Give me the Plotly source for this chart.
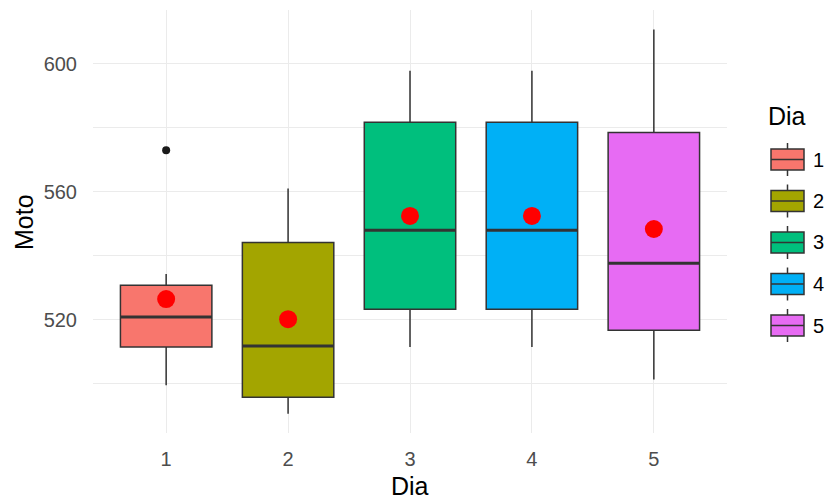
import plotly.graph_objects as go

# ---- data ----
dias = ["1", "2", "3", "4", "5"]
positions = [1, 2, 3, 4, 5]
q1 = [511.4, 495.7, 523.2, 523.2, 516.6]
median = [520.8, 511.7, 547.9, 547.9, 537.6]
q3 = [530.7, 544.1, 581.7, 581.7, 578.5]
lower_whisker = [499.4, 490.5, 511.4, 511.4, 501.2]
upper_whisker = [534.2, 561.0, 597.8, 597.8, 610.7]
means = [526.4, 520.1, 552.4, 552.4, 548.3]
outlier_dia = [1]
outlier_val = [572.9]

colors = ["#F8766D", "#A3A500", "#00BF7D", "#00B0F6", "#E76BF3"]
line_col = "#333333"
box_w = 0.75
FONT = "Liberation Sans, Arial, sans-serif"

# the page body has an 8px margin; size the figure to fit the 833x502 window
OFF = 8
W, H = 833 - OFF, 502 - OFF
ML, MT = 93 - OFF, 10 - OFF
MR = W - (727 - OFF)
MB = H - (433 - OFF)
PW, PH = W - ML - MR, H - MT - MB


def px_x(px):  # screen pixel -> paper
    return (px - OFF - ML) / PW


def px_y(py):
    return (H - MB - (py - OFF)) / PH


fig = go.Figure()
for i, d in enumerate(dias):
    fig.add_trace(go.Box(
        x=[positions[i]], q1=[q1[i]], median=[median[i]], q3=[q3[i]],
        lowerfence=[lower_whisker[i]], upperfence=[upper_whisker[i]],
        width=box_w, whiskerwidth=0, boxpoints=False,
        fillcolor=colors[i], line=dict(color=line_col, width=1.5),
        name=d, showlegend=False, hoverinfo="skip",
    ))

# thicker median lines (ggplot fatten)
mx, my = [], []
for p, m in zip(positions, median):
    mx += [p - box_w / 2, p + box_w / 2, None]
    my += [m, m, None]
fig.add_trace(go.Scatter(x=mx, y=my, mode="lines", line=dict(color=line_col, width=3),
                         showlegend=False, hoverinfo="skip"))

# outliers
fig.add_trace(go.Scatter(x=outlier_dia, y=outlier_val, mode="markers",
                         marker=dict(color="#1A1A1A", size=8), showlegend=False, hoverinfo="skip"))
# means
fig.add_trace(go.Scatter(x=positions, y=means, mode="markers",
                         marker=dict(color="#FF0000", size=18, symbol="circle"),
                         showlegend=False, hoverinfo="skip"))

# ---- ggplot-style legend built from shapes ----
shapes = []
annotations = []
key_l, key_r = 771, 804
key_cx = (key_l + key_r) / 2
first_y, step = 159.5, 41.5
for k, d in enumerate(dias):
    cy = first_y + step * k
    shapes.append(dict(type="line", xref="paper", yref="paper",
                       x0=px_x(key_cx), x1=px_x(key_cx), y0=px_y(cy - 16.5), y1=px_y(cy + 16.5),
                       line=dict(color=line_col, width=1.5), layer="above"))
    shapes.append(dict(type="rect", xref="paper", yref="paper",
                       x0=px_x(key_l), x1=px_x(key_r), y0=px_y(cy - 10.5), y1=px_y(cy + 10.5),
                       fillcolor=colors[k], line=dict(color=line_col, width=1.5), layer="above"))
    shapes.append(dict(type="line", xref="paper", yref="paper",
                       x0=px_x(key_l), x1=px_x(key_r), y0=px_y(cy), y1=px_y(cy),
                       line=dict(color=line_col, width=1.5), layer="above"))
    annotations.append(dict(text=d, xref="paper", yref="paper", x=px_x(811), y=px_y(cy),
                            xanchor="left", yanchor="middle", showarrow=False,
                            font=dict(size=20, color="#000000", family=FONT)))
annotations.append(dict(text="Dia", xref="paper", yref="paper", x=px_x(766), y=px_y(116),
                        xanchor="left", yanchor="middle", showarrow=False,
                        font=dict(size=25, color="#000000", family=FONT)))
# axis titles
annotations.append(dict(text="Dia", xref="paper", yref="paper", x=px_x(410), y=px_y(486),
                        xanchor="center", yanchor="middle", showarrow=False,
                        font=dict(size=25, color="#000000", family=FONT)))
annotations.append(dict(text="Moto", xref="paper", yref="paper", x=px_x(24), y=px_y(222),
                        xanchor="center", yanchor="middle", showarrow=False, textangle=-90,
                        font=dict(size=25, color="#000000", family=FONT)))

fig.update_layout(
    width=W, height=H,
    margin=dict(l=ML, r=MR, t=MT, b=MB),
    plot_bgcolor="white", paper_bgcolor="white",
    font=dict(family=FONT, color="#000000"),
    showlegend=False,
    shapes=shapes, annotations=annotations,
    xaxis=dict(
        range=[0.4, 5.6], tickvals=positions, ticktext=dias, automargin=False,
        showgrid=True, gridcolor="#EBEBEB", gridwidth=1.2, zeroline=False,
        showline=False, ticks="outside", ticklen=8, tickcolor="rgba(0,0,0,0)",
        tickfont=dict(size=20, color="#4D4D4D"),
    ),
    yaxis=dict(
        range=[484.5, 616.8], tickvals=[520, 560, 600], automargin=False,
        showgrid=True, gridcolor="#EBEBEB", gridwidth=1.2, zeroline=False,
        showline=False, ticks="outside", ticklen=11, tickcolor="rgba(0,0,0,0)",
        tickfont=dict(size=20, color="#4D4D4D"),
        minor=dict(tickvals=[500, 540, 580], showgrid=True, gridcolor="#EBEBEB", gridwidth=0.6),
    ),
)

fig.write_html("out.html")
